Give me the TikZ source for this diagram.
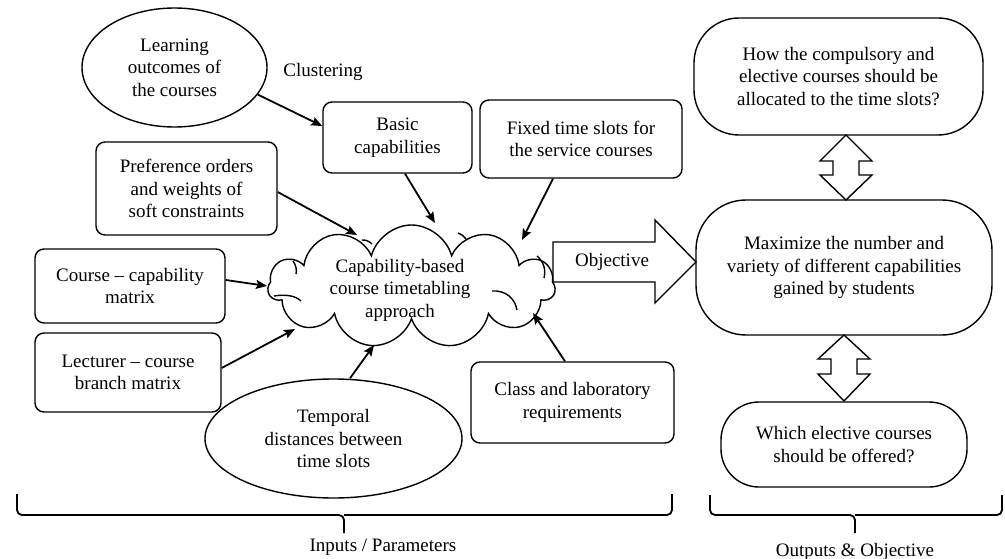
\documentclass[tikz,border=0pt]{standalone}
\usepackage{fontspec}
\setmainfont{Liberation Serif}
\usetikzlibrary{shapes.geometric,shapes.symbols,arrows.meta,calc}
\begin{document}
\begin{tikzpicture}[x=1pt,y=-1pt,
  every node/.style={font=\fontsize{19}{22.5}\selectfont, align=center},
  rbox/.style={draw, line width=1.4pt, rounded corners=9pt, inner sep=0pt},
  oval/.style={draw, ellipse, line width=1.4pt, inner sep=0pt},
  stad/.style={draw, line width=1.4pt, inner sep=0pt},
  arr/.style={line width=1.8pt, -{Stealth[length=11pt,width=9pt,inset=2pt]}},
  brace/.style={line width=1.8pt, rounded corners=5pt},
  blockarrow/.style={draw, line width=1.4pt, line join=miter},
  curl/.style={line width=1.4pt},
]
\useasboundingbox (0,0) rectangle (1005,559);

% inputs
\node[oval, minimum width=185pt, minimum height=119pt] (learn) at (174.5,67.5) {Learning\\outcomes of\\the courses};
\node (clustering) at (323,72) {Clustering};
\node[rbox, minimum width=149pt, minimum height=71pt] (basic) at (397.5,137.5) {Basic\\capabilities};
\node[rbox, minimum width=202pt, minimum height=78pt] (fixed) at (581,139) {Fixed time slots for\\the service courses};
\node[rbox, minimum width=181pt, minimum height=93pt] (pref) at (186.5,188.5) {Preference orders\\and weights of\\soft constraints};
\node[rbox, minimum width=190pt, minimum height=74pt] (course) at (130,286) {Course -- capability\\matrix};
\node[rbox, minimum width=186pt, minimum height=79pt] (lect) at (128,372.5) {Lecturer -- course\\branch matrix};
\node[oval, minimum width=257pt, minimum height=119pt] (temporal) at (333.5,438.5) {Temporal\\distances between\\time slots};
\node[rbox, minimum width=203pt, minimum height=81pt] (class) at (572.5,402.5) {Class and laboratory\\requirements};

% cloud
\node[cloud, draw, line width=1.4pt, cloud puffs=11, cloud ignores aspect, minimum width=287pt, minimum height=123pt, inner sep=0pt] (cloud) at (411.5,286.5) {};
\node (cloudtext) at (400,290) {Capability-based\\course timetabling\\approach};
% inner curls of the cloud
\draw[curl] (274,296) .. controls (286,294) and (296,296) .. (301,301);
\draw[curl] (492,291) .. controls (505,290) and (515,298) .. (517,310);
\draw[curl] (537,256) .. controls (544,262) and (546,270) .. (544,278);
\draw[curl] (293,261) .. controls (296,265) and (297,270) .. (296,274);
\draw[curl] (362,240) .. controls (366,240) and (369,241) .. (372,244);
\draw[curl] (458,233) .. controls (461,234) and (464,236) .. (466,239);

% objective block arrow
\draw[blockarrow] (553,242) -- (655,242) -- (655,220) -- (696,262) -- (655,303) -- (655,282) -- (553,282) -- cycle;
\node (objective) at (612,262) {Objective};

% outputs
\node[stad, rounded corners=45pt, minimum width=289pt, minimum height=117pt] (topq) at (838.5,76.5) {How the compulsory and\\elective courses should be\\allocated to the time slots?};
\node[stad, rounded corners=50pt, minimum width=296pt, minimum height=135pt] (maxim) at (844,267.5) {Maximize the number and\\variety of different capabilities\\gained by students};
\node[stad, rounded corners=38pt, minimum width=246pt, minimum height=85pt] (whichq) at (844,444.5) {Which elective courses\\should be offered?};

% double arrows
\draw[blockarrow] (846,135) -- (872,161) -- (859,161) -- (859,175) -- (872,175) -- (846,200) -- (820,175) -- (833,175) -- (833,161) -- (820,161) -- cycle;
\draw[blockarrow] (844,335) -- (870,359) -- (857,359) -- (857,374) -- (870,374) -- (844,401) -- (818,374) -- (831,374) -- (831,359) -- (818,359) -- cycle;

% arrow targets on the cloud
\coordinate (tbasic) at (435,223);
\coordinate (tfixed) at (522,240);
\coordinate (tpref) at (357,235);
\coordinate (tcourse) at (267,286);
\coordinate (tlect) at (295,329);
\coordinate (ttemp) at (374,345);
\coordinate (tclass) at (533,313);

\draw[arr] (learn.-18) -- ([yshift=11.5pt]basic.west);
\draw[arr] ([xshift=7.5pt]basic.south) -- (tbasic);
\draw[arr] ([xshift=-28pt]fixed.south) -- (tfixed);
\draw[arr] ([yshift=-3.5pt]pref.east) -- (tpref);
\draw[arr] ([yshift=6pt]course.east) -- (tcourse);
\draw[arr] ([yshift=4.5pt]lect.east) -- (tlect);
\draw[arr] ([xshift=16.5pt]temporal.north) -- (ttemp);
\draw[arr] ([xshift=-7.5pt]class.north) -- (tclass);

% braces
\draw[brace] (17,494) -- (17,515) -- (344,515) -- (344,533);
\draw[brace] (672,494) -- (672,515) -- (344,515);
\draw[brace] (710,495) -- (710,515) -- (855,515) -- (855,533);
\draw[brace] (1002,495) -- (1002,515) -- (855,515);
\node (inputs) at (383,547) {Inputs / Parameters};
\node (outputs) at (855,552) {Outputs \& Objective};
\end{tikzpicture}
\end{document}
